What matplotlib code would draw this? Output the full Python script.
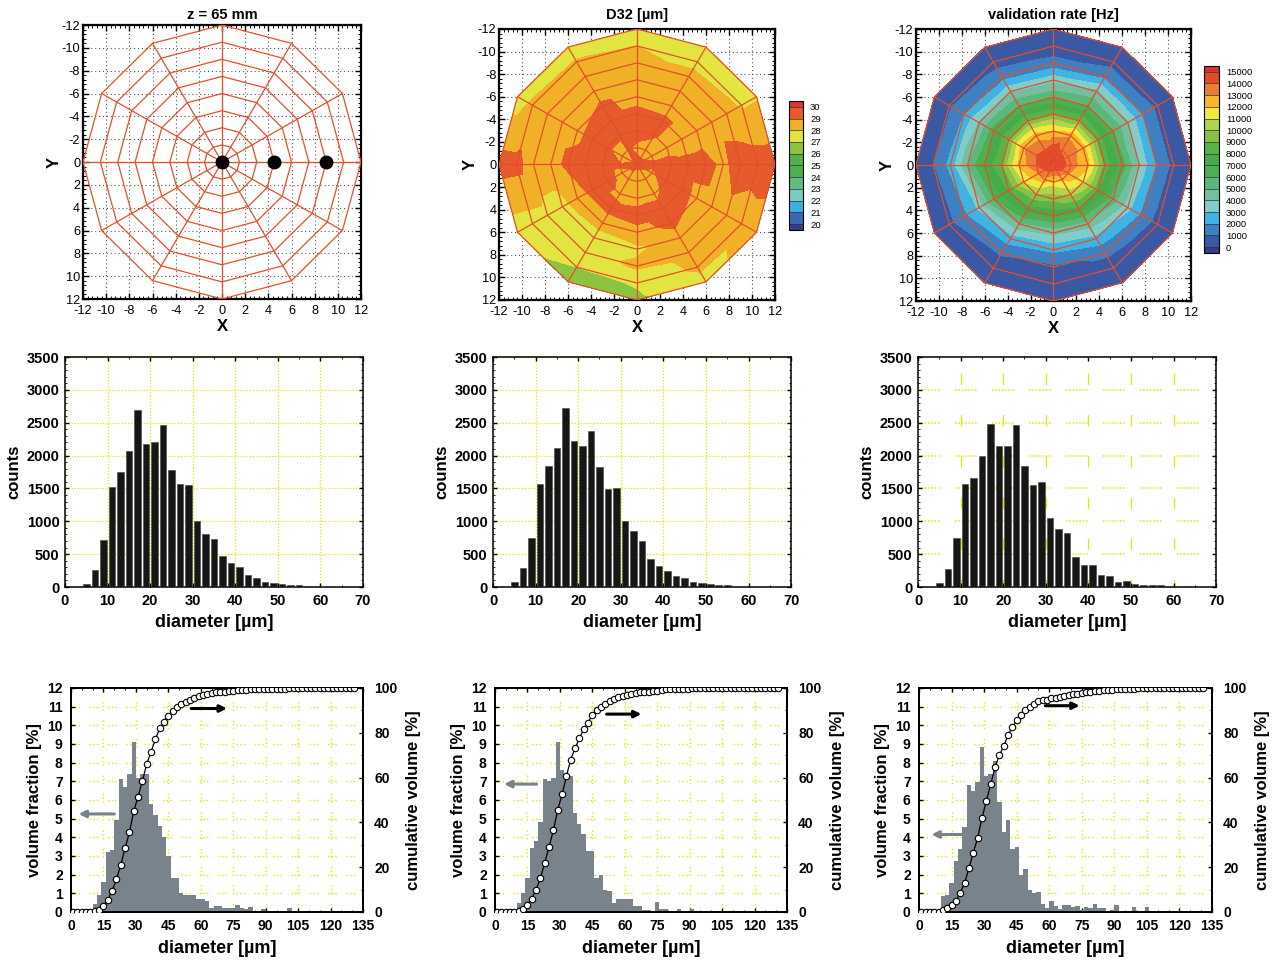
import numpy as np
import matplotlib
matplotlib.use("Agg")
import matplotlib.pyplot as plt
import matplotlib.tri as mtri
from matplotlib.ticker import MultipleLocator

plt.rcParams['font.family'] = ['Liberation Sans', 'DejaVu Sans']
plt.rcParams['axes.unicode_minus'] = False

# ---------------- measurement grid (polar web) ----------------
radii = [1.5, 3.0, 4.5, 6.0, 7.5, 9.0, 10.5, 12.0]
angles_deg = [0, 30, 60, 90, 120, 150, 180, 210, 240, 270, 300, 330]
probe_x = [0.0, 4.5, 9.0]
probe_y = [0.0, 0.0, 0.0]

# Sauter mean diameter D32 [um]: centre value, then one row per ring (12 angles each)
d32_center = 29.3
d32_rings = [
    [29.2, 28.8, 28.5, 28.0, 28.6, 28.7, 29.2, 27.9, 29.1, 28.8, 28.6, 28.7],
    [29.4, 29.5, 28.6, 28.5, 28.8, 29.3, 29.4, 29.4, 29.3, 29.4, 29.1, 28.6],
    [29.3, 29.4, 29.5, 29.5, 29.3, 29.3, 29.5, 29.4, 29.3, 29.3, 29.2, 28.5],
    [29.4, 28.7, 29.3, 28.6, 28.4, 28.4, 29.3, 28.7, 29.2, 28.6, 28.5, 28.5],
    [28.7, 28.6, 28.5, 27.8, 27.5, 27.7, 28.5, 28.5, 28.5, 28.4, 28.5, 28.5],
    [29.6, 28.6, 28.4, 28.2, 27.6, 27.7, 28.5, 28.4, 28.4, 28.3, 28.3, 28.3],
    [29.5, 28.3, 28.2, 27.1, 27.0, 27.6, 29.3, 28.2, 28.1, 28.0, 27.7, 27.9],
    [29.5, 28.5, 27.6, 26.8, 26.5, 27.5, 29.4, 27.5, 27.4, 27.5, 27.5, 27.9],
]

# validation rate [Hz]
rate_center = 15300
rate_rings = [
    [13500, 13000, 12000, 11500, 12500, 13000, 14000, 14200, 14000, 14600, 13800, 13500],
    [12300, 11200, 10200, 9300, 9800, 11000, 12200, 12800, 12500, 12000, 12800, 12600],
    [8500, 8000, 7500, 7000, 7500, 8000, 9000, 9000, 9000, 9000, 9000, 8500],
    [6500, 5500, 4500, 4200, 4800, 6000, 7200, 6500, 6000, 5800, 6000, 6000],
    [3800, 3300, 2600, 2200, 2500, 3200, 5000, 4000, 3800, 3600, 4200, 4000],
    [1900, 1600, 1200, 800, 1100, 1700, 2300, 2000, 1500, 1300, 1700, 1900],
    [700, 600, 450, 400, 450, 700, 900, 800, 600, 500, 600, 700],
    [300, 250, 200, 200, 200, 250, 300, 300, 250, 250, 250, 300],
]

d32_levels = [19.5, 20, 21, 22, 23, 24, 25, 26, 27, 28, 29, 30, 30.5]
d32_colors = ['#2d3e8e', '#3c68b0', '#3aaee2', '#7ccac4', '#62bb7c', '#4cb050',
              '#52b248', '#8bc53f', '#e2e541', '#f0b129', '#e65a2b', '#dd3332']
rate_levels = [-500, 0, 1000, 2000, 3000, 4000, 5000, 6000, 7000, 8000, 9000,
               10000, 11000, 12000, 13000, 14000, 15000, 15500]
rate_colors = ['#2e3e8c', '#3a58a4', '#3e80c2', '#3fb4e4', '#80ccc8', '#72c0a0',
               '#5cb878', '#4cb050', '#44ac48', '#58b448', '#86c244', '#b2d44c',
               '#f0ea3c', '#f5b82a', '#ec7d34', '#e24b2a', '#dc3030']

# ---------------- droplet counts per size class ----------------
count_bins = list(range(5, 65, 2))
counts_a = [50, 260, 710, 1520, 1750, 2070, 2690, 2180, 2200, 2460, 1780, 1570, 1560, 1000, 800,
            730, 470, 370, 310, 180, 140, 80, 65, 40, 35, 25, 20, 20, 20, 15]
counts_b = [80, 290, 750, 1570, 1840, 2110, 2730, 2230, 2140, 2370, 1820, 1490, 1510, 1000, 860,
            700, 430, 320, 250, 170, 140, 80, 60, 45, 30, 30, 20, 20, 20, 15]
counts_c = [60, 280, 740, 1570, 1660, 2000, 2480, 2140, 2140, 2460, 1840, 1550, 1600, 1050, 890,
            830, 450, 330, 330, 190, 170, 80, 90, 45, 30, 30, 30, 0, 0, 15]

# ---------------- volume fraction and cumulative volume ----------------
vol_bins = list(range(1, 132, 2))
vol_a = [0, 0, 0, 0, 0, 0.4, 0.9, 1.6, 3.2, 3.3, 4.9, 7.1, 6.7, 7.4, 9.1, 7.2, 7.4, 7.4, 5.8, 5.2,
         4.6, 4.0, 3.0, 1.8, 1.8, 1.0, 0.9, 0.9, 0.9, 0.7, 0.7, 0.6, 0.2, 0.3, 0.3, 0.2, 0.2, 0.2,
         0.35, 0.2, 0.15, 0.25, 0.05, 0.05, 0.15, 0.05, 0, 0, 0, 0, 0.2, 0, 0, 0, 0, 0, 0, 0, 0,
         0, 0, 0, 0, 0, 0, 0]
cum_a = [0, 0, 0, 0, 0, 0.3, 1.0, 2.5, 5.5, 9.5, 14.5, 21, 28.5, 35.5, 45, 51.5, 58.5, 66, 71.5, 77,
         82, 85, 87.5, 89.6, 91.5, 92.9, 93.6, 94.5, 95.6, 96.3, 97, 97.5, 97.8, 98, 98.2, 98.4,
         98.5, 98.7, 99, 99.1, 99.3, 99.4, 99.4, 99.5, 99.5, 99.6, 99.6, 99.6, 99.6, 99.7, 99.8,
         100, 100, 100, 100, 100, 100, 100, 100, 100, 100, 100, 100, 100, 100, 100]
vol_b = [0, 0, 0, 0, 0, 0.5, 1.0, 1.8, 3.4, 3.8, 4.8, 7.1, 7.0, 7.2, 9.1, 7.6, 7.3, 7.3, 5.3, 4.7,
         4.2, 3.25, 3.25, 1.8, 2.0, 1.2, 1.1, 0.5, 0.7, 0.7, 0.7, 0.7, 0.3, 0.3, 0.1, 0.1, 0, 0.55,
         0.15, 0.15, 0, 0, 0.15, 0, 0, 0.15, 0, 0, 0, 0, 0, 0, 0, 0, 0, 0, 0, 0, 0, 0, 0, 0, 0, 0,
         0, 0]
cum_b = [0, 0, 0, 0, 0.2, 0.5, 1.5, 3, 6, 10, 15, 22, 29, 36.5, 45.5, 52.5, 60.5, 68, 73, 77.5,
         81.5, 84.5, 88, 90, 91.5, 93, 94, 95, 95.8, 96.5, 97, 97.5, 97.8, 98, 98.2, 98.4, 98.6,
         98.8, 99.2, 99.4, 99.5, 99.5, 99.6, 99.6, 99.7, 99.8, 100, 100, 100, 100, 100, 100, 100,
         100, 100, 100, 100, 100, 100, 100, 100, 100, 100, 100, 100, 100]
vol_c = [0, 0, 0, 0, 0, 0.85, 0.9, 1.55, 2.75, 3.35, 4.55, 6.8, 6.5, 6.95, 8.85, 7.3, 7.4, 8.1,
         5.9, 4.3, 4.95, 3.35, 3.5, 2.0, 2.3, 1.2, 1.0, 1.05, 0.4, 0.2, 0.6, 0.3, 0.15, 0.35, 0.35,
         0.25, 0.3, 0.1, 0.25, 0.2, 0.4, 0.2, 0.2, 0.05, 0.1, 0.35, 0, 0, 0, 0.25, 0, 0, 0.25, 0,
         0, 0, 0, 0, 0, 0, 0, 0, 0, 0, 0, 0]
cum_c = [0, 0, 0, 0, 0.2, 1, 1.8, 3, 5, 8.5, 13, 19.5, 26.5, 33, 42, 49.5, 57, 64.5, 70, 74, 79,
         82.5, 85.5, 88, 90, 91.5, 93, 94, 94.5, 94.8, 95.3, 95.7, 96, 96.4, 96.8, 97.2, 97.5,
         97.7, 98, 98.2, 98.5, 98.8, 99, 99.1, 99.2, 99.5, 99.5, 99.5, 99.5, 99.7, 99.8, 99.8,
         100, 100, 100, 100, 100, 100, 100, 100, 100, 100, 100, 100, 100, 100]
# axis-pointer arrows: (height on left axis, x of tail, x of head)
arrow_left = [(5.25, 20, 3.5), (6.85, 19.2, 4.2), (4.15, 19.5, 5.7)]
arrow_right = [(10.9, 55.6, 72.1), (10.6, 51.6, 67.7), (11.05, 58.2, 74.0)]

WEB = '#e2502b'
BAR_GRAY = '#78838b'
GRID_Y = '#e6e600'

# ---------------- triangulated polar web ----------------
th = np.deg2rad(angles_deg)
R, TH = np.meshgrid(radii, th, indexing='ij')
node_x = np.concatenate([[0.0], (R * np.cos(TH)).ravel()])
node_y = np.concatenate([[0.0], (R * np.sin(TH)).ravel()])
nr, na = len(radii), len(angles_deg)
tris = []
for j in range(na):
    tris.append([0, 1 + j, 1 + (j + 1) % na])
for i in range(nr - 1):
    for j in range(na):
        a = 1 + i * na + j
        b = 1 + i * na + (j + 1) % na
        c = 1 + (i + 1) * na + (j + 1) % na
        d = 1 + (i + 1) * na + j
        tris.append([a, b, c])
        tris.append([a, c, d])
triang = mtri.Triangulation(node_x, node_y, np.array(tris))


def draw_web(ax):
    for r in radii:
        ax.plot(np.append(r * np.cos(th), r * np.cos(th[0])),
                np.append(r * np.sin(th), r * np.sin(th[0])),
                color=WEB, lw=0.9, zorder=3)
    for t in th:
        ax.plot([0, radii[-1] * np.cos(t)], [0, radii[-1] * np.sin(t)],
                color=WEB, lw=0.9, zorder=3)


def style_map(ax, title, tpad):
    ax.set_xlim(-12, 12)
    ax.set_ylim(12, -12)
    ax.xaxis.set_major_locator(MultipleLocator(2))
    ax.yaxis.set_major_locator(MultipleLocator(2))
    ax.xaxis.set_minor_locator(MultipleLocator(0.4))
    ax.yaxis.set_minor_locator(MultipleLocator(0.4))
    ax.tick_params(which='both', direction='in', top=True, right=True, labelsize=9.2)
    ax.tick_params(axis='x', pad=4.5)
    ax.tick_params(axis='y', pad=2)
    ax.tick_params(which='major', length=4, width=1)
    ax.tick_params(which='minor', length=2, width=0.7)
    ax.grid(True, which='major', color='#555555', linestyle=(0, (1, 2.5)), lw=0.8)
    ax.set_axisbelow(True)
    for s in ax.spines.values():
        s.set_linewidth(1.6)
    ax.set_xlabel('X', fontsize=12, fontweight='bold', labelpad=1)
    ax.set_ylabel('Y', fontsize=12, fontweight='bold', labelpad=0)
    ax.set_title(title, fontsize=10.5, fontweight='bold', pad=tpad)


fig = plt.figure(figsize=(12.77, 9.63), dpi=100)

# ---------------- top row: maps ----------------
ax1 = fig.add_axes([0.0650, 0.6895, 0.2177, 0.2845])
style_map(ax1, 'z = 65 mm', 4)
draw_web(ax1)
ax1.plot(probe_x, probe_y, 'o', color='black', ms=9, zorder=4)

ax2 = fig.add_axes([0.3908, 0.6885, 0.2161, 0.2814])
style_map(ax2, 'D32 [µm]', 7)
d32_vals = np.concatenate([[d32_center], np.array(d32_rings).ravel()])
cs2 = ax2.tricontourf(triang, d32_vals, levels=d32_levels, colors=d32_colors, zorder=1)
draw_web(ax2)
cax2 = fig.add_axes([0.6179, 0.7612, 0.0110, 0.1340])
cb2 = fig.colorbar(cs2, cax=cax2, ticks=list(range(20, 31)), spacing='proportional',
                   drawedges=True)

ax3 = fig.add_axes([0.7173, 0.6874, 0.2153, 0.2824])
style_map(ax3, 'validation rate [Hz]', 7)
rate_vals = np.concatenate([[rate_center], np.array(rate_rings).ravel()])
cs3 = ax3.tricontourf(triang, rate_vals, levels=rate_levels, colors=rate_colors, zorder=1)
draw_web(ax3)
cax3 = fig.add_axes([0.9428, 0.7373, 0.0117, 0.1942])
cb3 = fig.colorbar(cs3, cax=cax3, ticks=list(range(0, 15001, 1000)), spacing='proportional',
                   drawedges=True)

for cb in (cb2, cb3):
    cb.ax.tick_params(labelsize=6.8, length=0, pad=5)
    cb.outline.set_linewidth(0.8)
    cb.dividers.set_linewidth(0.5)
    cb.dividers.set_color('#333333')

# ---------------- middle row: counts ----------------
count_sets = [counts_a, counts_b, counts_c]
mid_left = [0.0509, 0.3861, 0.7189]
for k, (left, cts) in enumerate(zip(mid_left, count_sets)):
    ax = fig.add_axes([left, 0.3904, 0.2334, 0.2388])
    ax.bar(count_bins, cts, width=1.55, color='#161616', edgecolor='#444444', lw=0.4, zorder=3)
    ax.set_xlim(0, 70)
    ax.set_ylim(0, 3500)
    ax.xaxis.set_major_locator(MultipleLocator(10))
    ax.yaxis.set_major_locator(MultipleLocator(500))
    ax.yaxis.set_minor_locator(MultipleLocator(100))
    ax.xaxis.set_minor_locator(MultipleLocator(5))
    ax.tick_params(which='both', direction='in', top=True, right=True, labelsize=10.5)
    ax.tick_params(axis='x', pad=5)
    ax.tick_params(axis='y', pad=4)
    ax.tick_params(which='major', length=3, width=1)
    ax.tick_params(which='minor', length=1.5, width=0.6)
    for lab in ax.get_xticklabels() + ax.get_yticklabels():
        lab.set_fontweight('bold')
    if k < 2:
        ax.grid(True, which='major', color=GRID_Y, linestyle=(0, (1, 1.5)), lw=0.9, zorder=0)
    else:
        for xv in range(10, 70, 10):
            ax.axvline(xv, color=GRID_Y, lw=0.9, linestyle=(3, (9, 24)), zorder=0)
        for yv in range(500, 3500, 500):
            ax.axhline(yv, color=GRID_Y, lw=1.1,
                       linestyle=(0, (1, 1.2, 1, 1.2, 1, 1.2, 1, 1.2, 1, 1.2, 1, 1.2, 1, 10)),
                       zorder=0)
    ax.set_axisbelow(True)
    for s in ax.spines.values():
        s.set_linewidth(1.1)
    ax.set_xlabel('diameter [µm]', fontsize=13, fontweight='bold', labelpad=4)
    ax.set_ylabel('counts', fontsize=12, fontweight='bold', labelpad=4)

# ---------------- bottom row: volume distributions ----------------
vol_sets = [vol_a, vol_b, vol_c]
cum_sets = [cum_a, cum_b, cum_c]
bot_left = [0.0556, 0.3876, 0.7197]
bot_width = [0.2287, 0.2287, 0.2294]
grid_dash = (0, (1, 1.6, 1, 1.6, 1, 7))
for k in range(3):
    ax = fig.add_axes([bot_left[k], 0.0530, bot_width[k], 0.2326])
    ax.bar(vol_bins, vol_sets[k], width=2.0, color=BAR_GRAY, lw=0, zorder=2)
    ax.set_xlim(0, 135)
    ax.set_ylim(0, 12)
    ax.xaxis.set_major_locator(MultipleLocator(15))
    ax.xaxis.set_minor_locator(MultipleLocator(5))
    ax.yaxis.set_major_locator(MultipleLocator(1))
    for xv in range(15, 135, 15):
        ax.axvline(xv, color=GRID_Y, lw=1.0, linestyle=grid_dash, zorder=0)
    for yv in range(1, 12):
        ax.axhline(yv, color=GRID_Y, lw=1.0, linestyle=grid_dash, zorder=0)
    ax.tick_params(which='both', direction='in', top=True, labelsize=10)
    ax.tick_params(axis='x', pad=5)
    ax.tick_params(axis='y', pad=6)
    ax.tick_params(which='major', length=3, width=1)
    ax.tick_params(which='minor', length=1.5, width=0.6)
    for lab in ax.get_xticklabels() + ax.get_yticklabels():
        lab.set_fontweight('bold')
    ya, xa0, xa1 = arrow_left[k]
    ax.annotate('', xy=(xa1, ya), xytext=(xa0, ya),
                arrowprops=dict(arrowstyle='-|>', color=BAR_GRAY, lw=2.2, mutation_scale=10,
                                shrinkA=0, shrinkB=0), zorder=5)
    yb, xb0, xb1 = arrow_right[k]
    ax.annotate('', xy=(xb1, yb), xytext=(xb0, yb),
                arrowprops=dict(arrowstyle='-|>', color='black', lw=2.2, mutation_scale=10,
                                shrinkA=0, shrinkB=0), zorder=5)
    ax.set_xlabel('diameter [µm]', fontsize=13, fontweight='bold', labelpad=5)
    ax.set_ylabel('volume fraction [%]', fontsize=12, fontweight='bold', labelpad=4)

    ax2b = ax.twinx()
    ax2b.plot(vol_bins, cum_sets[k], '-o', color='black', lw=0.9, ms=4.6,
              mfc='white', mec='black', mew=0.8, zorder=4)
    ax2b.set_ylim(0, 100)
    ax2b.yaxis.set_major_locator(MultipleLocator(20))
    ax2b.yaxis.set_minor_locator(MultipleLocator(10))
    ax2b.tick_params(which='both', direction='in', labelsize=10, pad=8)
    ax2b.tick_params(which='major', length=3, width=1)
    ax2b.tick_params(which='minor', length=1.5, width=0.6)
    for lab in ax2b.get_yticklabels():
        lab.set_fontweight('bold')
    ax2b.set_ylabel('cumulative volume [%]', fontsize=12, fontweight='bold', labelpad=6)
    for s in list(ax.spines.values()) + list(ax2b.spines.values()):
        s.set_linewidth(1.4)

fig.savefig('out.png', dpi=100)
